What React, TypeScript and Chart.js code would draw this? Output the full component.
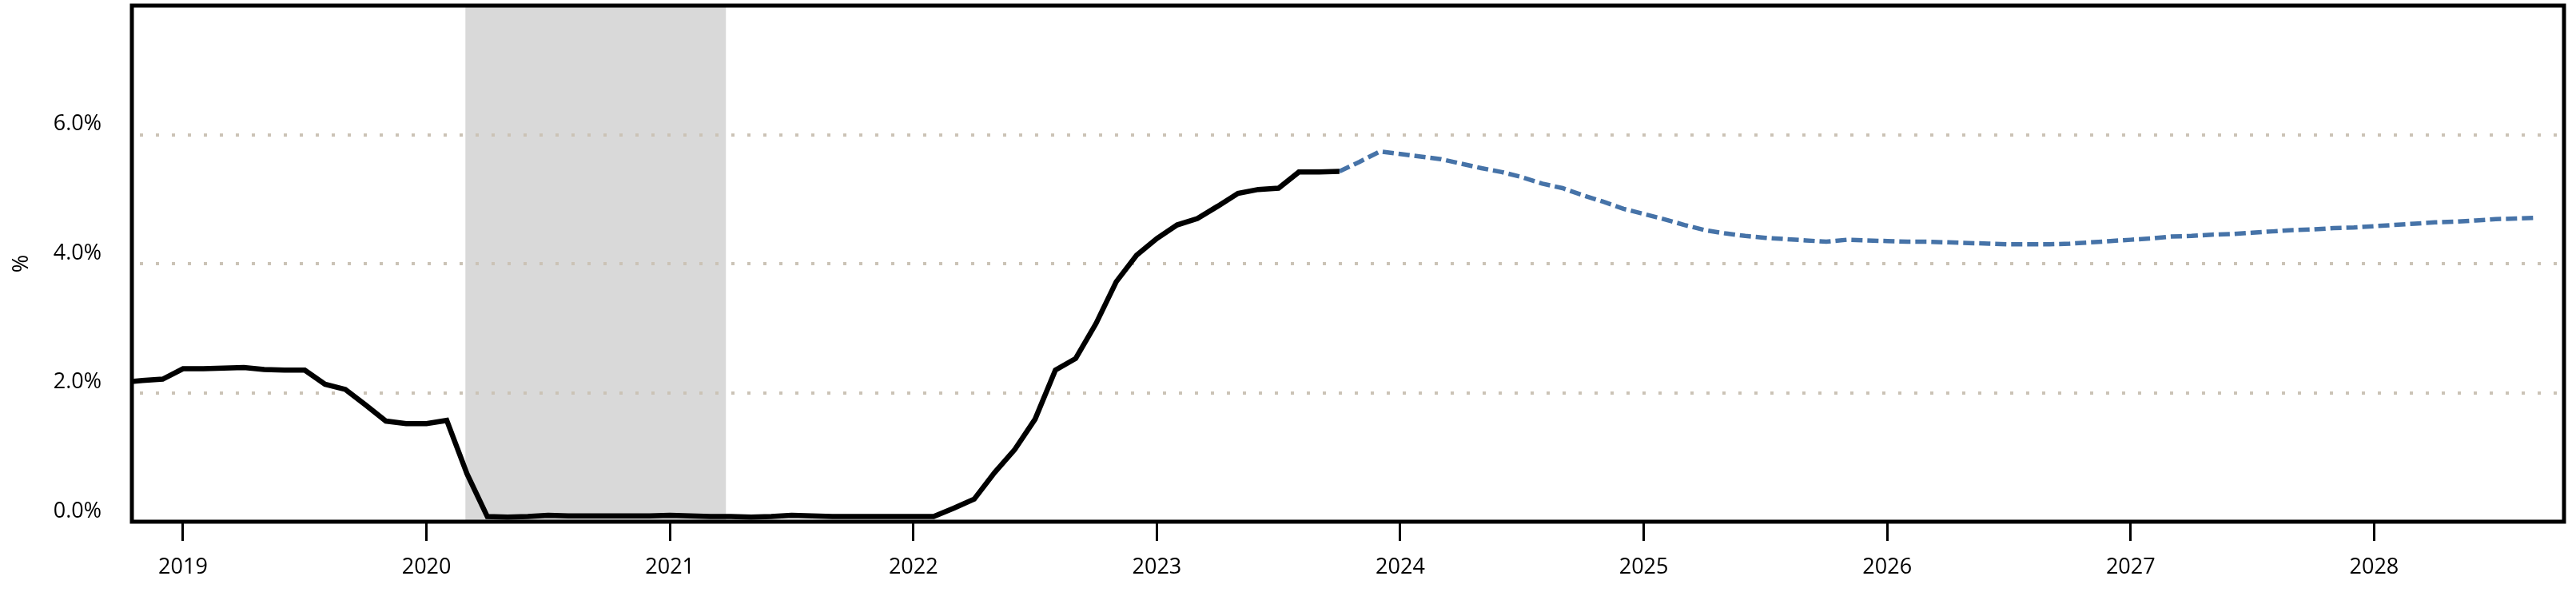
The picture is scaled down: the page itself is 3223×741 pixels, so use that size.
import React, { useEffect, useRef } from 'react';
import { Chart, registerables } from 'chart.js';

Chart.register(...registerables);

// Monthly history, starting Oct 2018
const histStart = { year: 2018, month: 10 };
const histValues = [
  2.16, 2.19, 2.21,
  2.37, 2.37, 2.38, 2.39, 2.36, 2.35, 2.35, 2.13, 2.05, 1.81, 1.56, 1.52,
  1.52, 1.57, 0.74, 0.08, 0.07, 0.08, 0.10, 0.09, 0.09, 0.09, 0.09, 0.09,
  0.10, 0.09, 0.08, 0.08, 0.07, 0.08, 0.10, 0.09, 0.08, 0.08, 0.08, 0.08,
  0.08, 0.08, 0.21, 0.35, 0.76, 1.12, 1.59, 2.35, 2.53, 3.07, 3.72, 4.13,
  4.39, 4.60, 4.70, 4.89, 5.09, 5.15, 5.17, 5.42, 5.42, 5.43,
];

// Monthly projection, starting Oct 2023
const fcStart = { year: 2023, month: 10 };
const fcValues = [
  5.43, 5.58, 5.74,
  5.70, 5.66, 5.62, 5.55, 5.48, 5.42, 5.34, 5.24, 5.17, 5.06, 4.96, 4.85,
  4.77, 4.69, 4.60, 4.52, 4.47, 4.43, 4.40, 4.38, 4.36, 4.34, 4.37, 4.36,
  4.35, 4.34, 4.34, 4.33, 4.32, 4.31, 4.30, 4.30, 4.30, 4.31, 4.33, 4.35,
  4.37, 4.39, 4.42, 4.43, 4.45, 4.46, 4.48, 4.50, 4.52, 4.53, 4.55, 4.56,
  4.58, 4.60, 4.62, 4.64, 4.65, 4.67, 4.69, 4.70, 4.71,
];

// Shaded period (decimal years): early Mar 2020 – late Mar 2021
const shadeStart = 2020.16;
const shadeEnd = 2021.23;

const xTicks = [2019, 2020, 2021, 2022, 2023, 2024, 2025, 2026, 2027, 2028];
const yTicks = [0, 2, 4, 6];
const xMin = 2018.79;
const xMax = 2028.78;
const yMin = 0;
const yMax = 8;

const toX = (year: number, month: number) => year + (month - 1) / 12;
const toPoints = (start: { year: number; month: number }, values: number[]) =>
  values.map((v, i) => ({ x: toX(start.year, start.month + i), y: v }));

const shadePlugin = {
  id: 'shade',
  beforeDraw(chart: any) {
    const { ctx, chartArea, scales } = chart;
    const x1 = scales.x.getPixelForValue(shadeStart);
    const x2 = scales.x.getPixelForValue(shadeEnd);
    ctx.save();
    ctx.fillStyle = '#d9d9d9';
    ctx.fillRect(x1, chartArea.top, x2 - x1, chartArea.bottom - chartArea.top);
    ctx.restore();
  },
};

const framePlugin = {
  id: 'frame',
  afterDraw(chart: any) {
    const { ctx, chartArea } = chart;
    ctx.save();
    ctx.strokeStyle = '#000';
    ctx.lineWidth = 5;
    ctx.strokeRect(chartArea.left, chartArea.top, chartArea.right - chartArea.left, chartArea.bottom - chartArea.top);
    ctx.restore();
  },
};

export default function App() {
  const ref = useRef<HTMLCanvasElement | null>(null);

  useEffect(() => {
    document.body.style.margin = '0';
    if (!ref.current) return;
    Chart.defaults.font.family = "'Open Sans', sans-serif";
    const chart = new Chart(ref.current, {
      type: 'line',
      data: {
        datasets: [
          {
            label: 'History',
            data: toPoints(histStart, histValues),
            borderColor: '#000',
            borderWidth: 6.5,
            pointRadius: 0,
            tension: 0,
            fill: false,
            order: 1,
          },
          {
            label: 'Projection',
            data: toPoints(fcStart, fcValues),
            borderColor: '#4673a8',
            borderWidth: 5.5,
            borderDash: [14, 6],
            pointRadius: 0,
            tension: 0,
            fill: false,
            order: 2,
          },
        ],
      },
      options: {
        animation: false,
        responsive: false,
        devicePixelRatio: 1,
        layout: { padding: { top: 7, right: 15, left: 0, bottom: 0 } },
        plugins: { legend: { display: false }, tooltip: { enabled: false } },
        scales: {
          x: {
            type: 'linear',
            min: xMin,
            max: xMax,
            afterBuildTicks: (s: any) => {
              s.ticks = xTicks.map((v) => ({ value: v }));
            },
            afterFit: (s: any) => {
              s.height = 88;
              s.paddingLeft = 0;
              s.paddingRight = 0;
            },
            grid: {
              drawOnChartArea: false,
              drawTicks: true,
              tickLength: 24,
              tickWidth: 3,
              tickColor: '#000',
            },
            border: { display: false },
            ticks: {
              padding: 17,
              color: '#000',
              font: { size: 27 },
              maxRotation: 0,
              autoSkip: false,
              callback: (v: any) => String(v),
            },
          },
          y: {
            type: 'linear',
            min: yMin,
            max: yMax,
            afterBuildTicks: (s: any) => {
              s.ticks = yTicks.map((v) => ({ value: v }));
            },
            afterFit: (s: any) => {
              s.width = 165;
              s.paddingTop = 0;
              s.paddingBottom = 0;
            },
            grid: {
              drawTicks: false,
              color: '#cbc3b6',
              lineWidth: 4,
            },
            border: { display: false, dash: [4, 16], dashOffset: 10 },
            ticks: {
              padding: 38,
              labelOffset: -13,
              color: '#000',
              font: { size: 27 },
              callback: (v: any) => Number(v).toFixed(1) + '%',
            },
            title: {
              display: true,
              text: '%',
              color: '#000',
              font: { size: 27 },
              padding: { top: 11, bottom: 0 },
            },
          },
        },
      },
      plugins: [shadePlugin, framePlugin],
    });
    return () => chart.destroy();
  }, []);

  return (
    <div style={{ width: 3223, height: 741 }}>
      <canvas ref={ref} width={3223} height={741} style={{ display: 'block' }} />
    </div>
  );
}
